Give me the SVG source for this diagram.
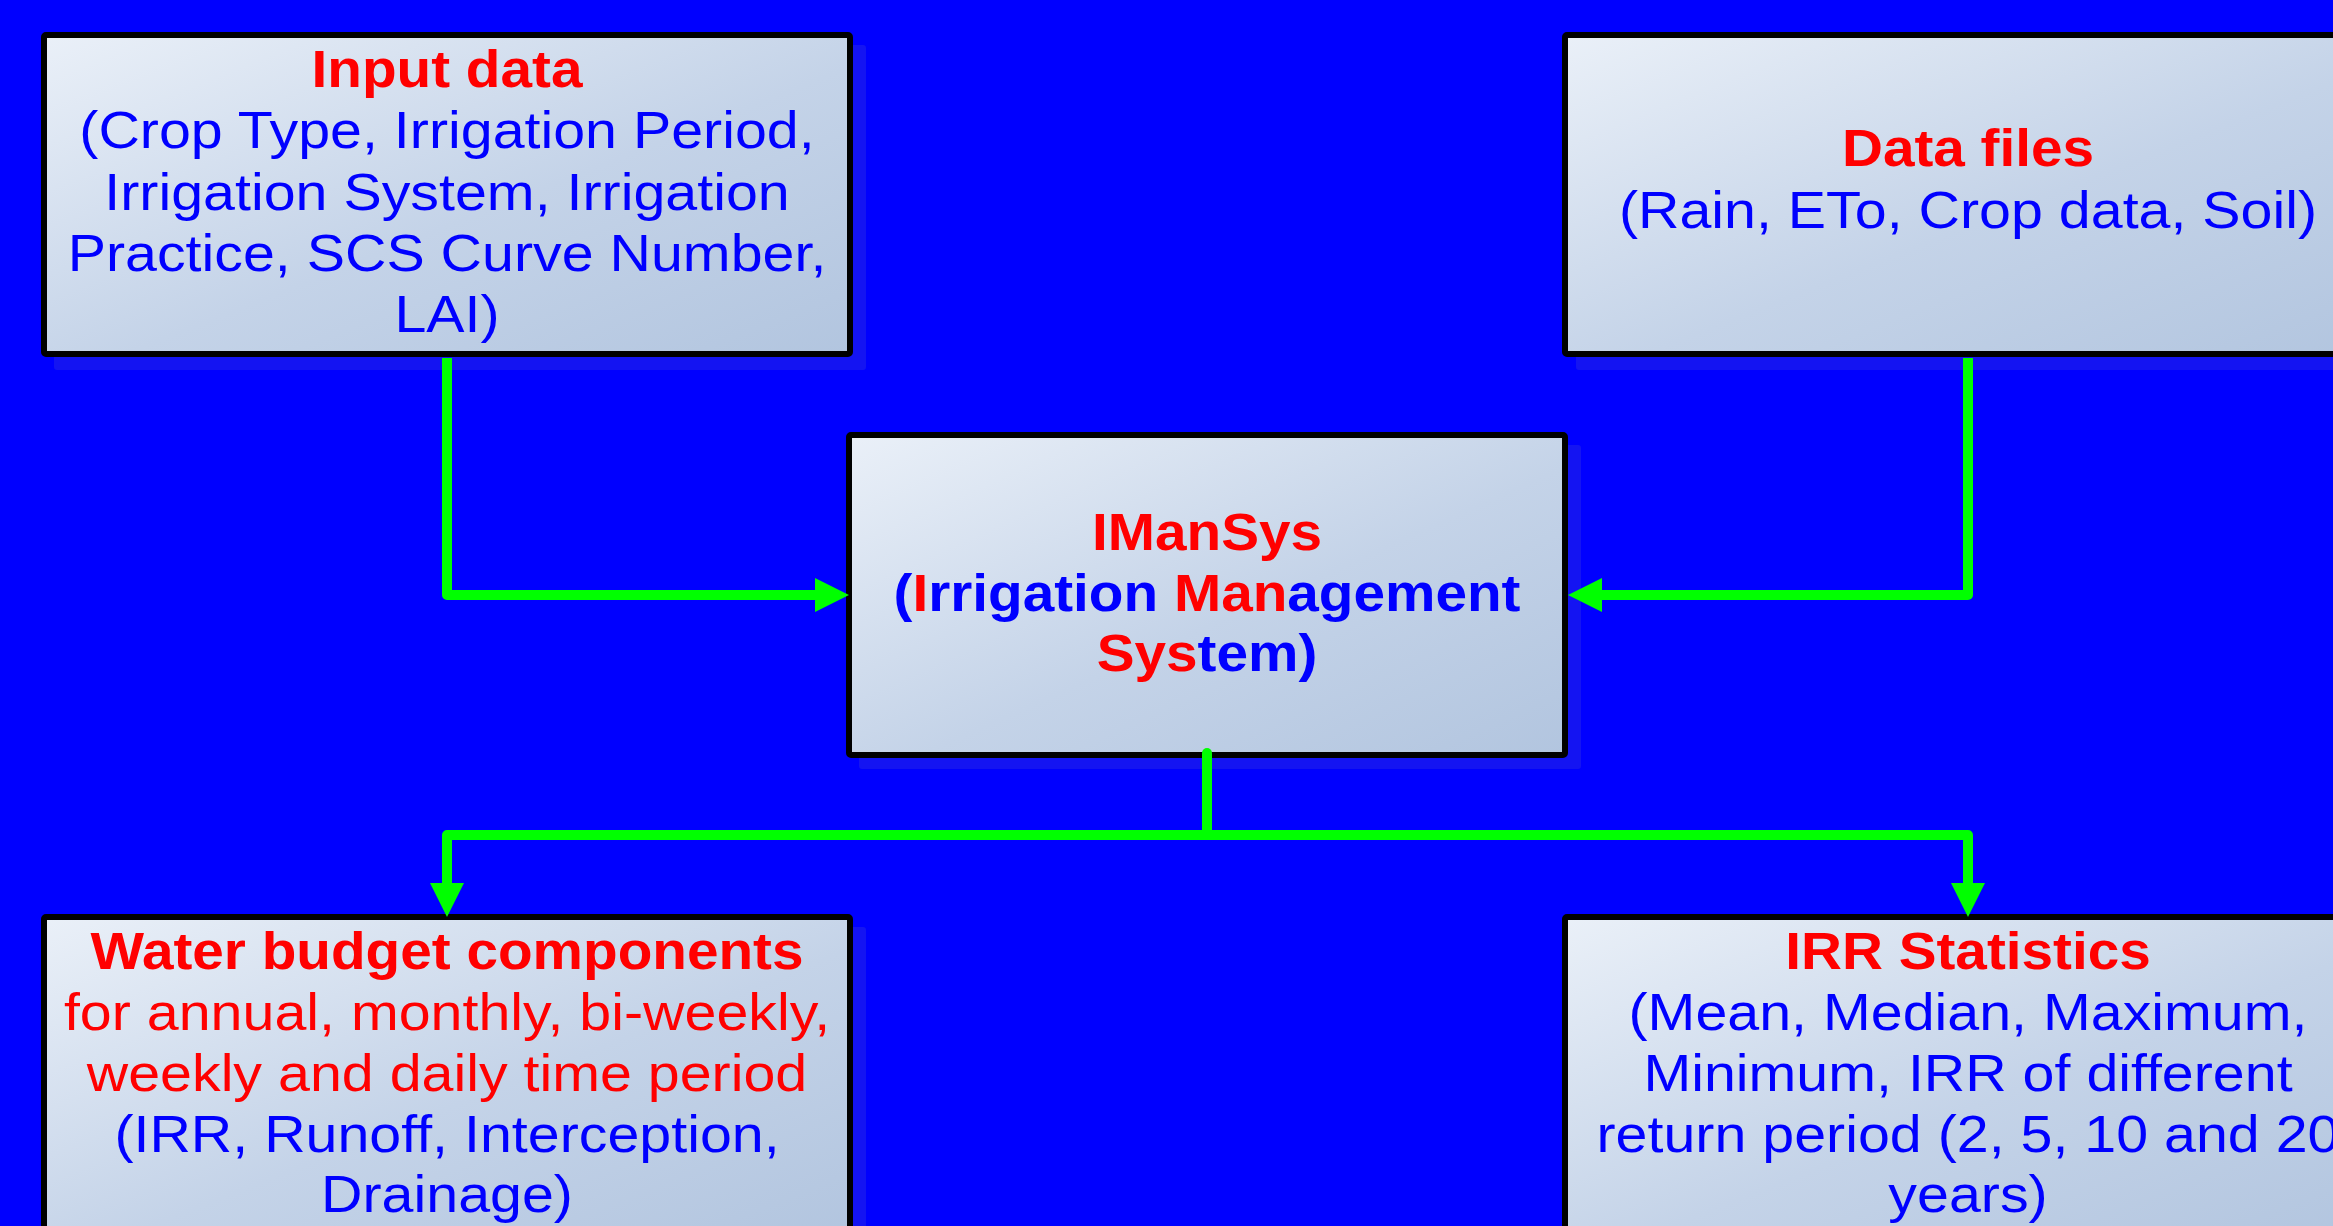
<svg xmlns="http://www.w3.org/2000/svg" width="2333" height="1226" viewBox="0 0 2333 1226">
<defs>
<linearGradient id="boxfill" x1="0" y1="0" x2="1" y2="1">
<stop offset="0" stop-color="#eaf0f8"/>
<stop offset="0.55" stop-color="#c4d3e8"/>
<stop offset="1" stop-color="#b2c5df"/>
</linearGradient>
<marker id="arrow" viewBox="0 0 34 34" refX="0" refY="17" markerWidth="34" markerHeight="34" markerUnits="userSpaceOnUse" orient="auto">
<path d="M0,0 L34,17 L0,34 Z" fill="#00ff00"/>
</marker>
</defs>
<style>
.shadow{fill:#1414f2;}
.box{fill:url(#boxfill);stroke:#000;stroke-width:6;}
.t{font-family:"Liberation Sans",Arial,Helvetica,sans-serif;font-size:51px;text-anchor:middle;}
.b{font-weight:bold;}
.red{fill:#ff0000;}
.blue{fill:#0000ff;}
.conn{fill:none;stroke:#00ff00;stroke-width:10;stroke-linejoin:round;}
</style>
<rect width="2333" height="1226" fill="#0000ff"/>

<g id="node-input">
<rect class="shadow" x="54" y="45" width="812" height="325" rx="3"/>
<rect class="box" x="44" y="35" width="806" height="319" rx="2"/>
<text class="t b red" transform="translate(447,0) scale(1.112,1)" x="0" y="87">Input data</text>
<text class="t blue" transform="translate(447,0) scale(1.125,1)" x="0" y="148.5">(Crop Type, Irrigation Period,</text>
<text class="t blue" transform="translate(447,0) scale(1.125,1)" x="0" y="209.8">Irrigation System, Irrigation</text>
<text class="t blue" transform="translate(447,0) scale(1.125,1)" x="0" y="271">Practice, SCS Curve Number,</text>
<text class="t blue" transform="translate(447,0) scale(1.125,1)" x="0" y="332.3">LAI)</text>
</g>

<g id="node-datafiles">
<rect class="shadow" x="1576" y="45" width="812" height="325" rx="3"/>
<rect class="box" x="1565" y="35" width="806" height="319" rx="2"/>
<text class="t b red" transform="translate(1968,0) scale(1.112,1)" x="0" y="166">Data files</text>
<text class="t blue" transform="translate(1968,0) scale(1.125,1)" x="0" y="228">(Rain, ETo, Crop data, Soil)</text>
</g>

<g id="node-imansys">
<rect class="shadow" x="859" y="445" width="722" height="324" rx="3"/>
<rect class="box" x="849" y="435" width="716" height="320" rx="2"/>
<text class="t b red" transform="translate(1207,0) scale(1.112,1)" x="0" y="550">IManSys</text>
<text class="t b" transform="translate(1207,0) scale(1.112,1)" x="0" y="610.7"><tspan class="blue">(</tspan><tspan class="red">I</tspan><tspan class="blue">rrigation </tspan><tspan class="red">Man</tspan><tspan class="blue">agement</tspan></text>
<text class="t b" transform="translate(1207,0) scale(1.112,1)" x="0" y="671"><tspan class="red">Sys</tspan><tspan class="blue">tem)</tspan></text>
</g>

<g id="node-waterbudget">
<rect class="shadow" x="54" y="927" width="812" height="325" rx="3"/>
<rect class="box" x="44" y="917" width="806" height="319" rx="2"/>
<text class="t b red" transform="translate(447,0) scale(1.112,1)" x="0" y="969">Water budget components</text>
<text class="t red" transform="translate(447,0) scale(1.125,1)" x="0" y="1030">for annual, monthly, bi-weekly,</text>
<text class="t red" transform="translate(447,0) scale(1.125,1)" x="0" y="1091">weekly and daily time period</text>
<text class="t blue" transform="translate(447,0) scale(1.125,1)" x="0" y="1152">(IRR, Runoff, Interception,</text>
<text class="t blue" transform="translate(447,0) scale(1.125,1)" x="0" y="1212">Drainage)</text>
</g>

<g id="node-irrstats">
<rect class="shadow" x="1576" y="927" width="812" height="325" rx="3"/>
<rect class="box" x="1565" y="917" width="806" height="319" rx="2"/>
<text class="t b red" transform="translate(1968,0) scale(1.112,1)" x="0" y="969">IRR Statistics</text>
<text class="t blue" transform="translate(1968,0) scale(1.125,1)" x="0" y="1030">(Mean, Median, Maximum,</text>
<text class="t blue" transform="translate(1968,0) scale(1.125,1)" x="0" y="1091">Minimum, IRR of different</text>
<text class="t blue" transform="translate(1968,0) scale(1.125,1)" x="0" y="1152">return period (2, 5, 10 and 20</text>
<text class="t blue" transform="translate(1968,0) scale(1.125,1)" x="0" y="1212">years)</text>
</g>

<g id="connectors">
<path class="conn" d="M447,358 V595 H815" marker-end="url(#arrow)"/>
<path class="conn" d="M1968,358 V595 H1602" marker-end="url(#arrow)"/>
<path class="conn" d="M1207,753 V835" stroke-linecap="round"/>
<path class="conn" d="M1207,835 H447 V883" marker-end="url(#arrow)"/>
<path class="conn" d="M1207,835 H1968 V883" marker-end="url(#arrow)"/>
</g>
</svg>
